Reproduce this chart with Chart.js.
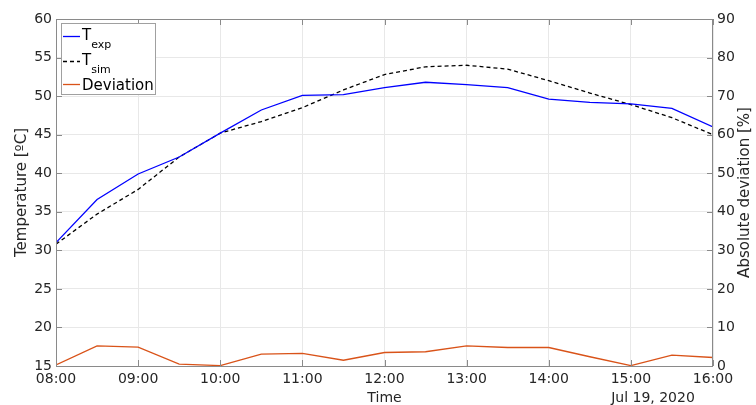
<!DOCTYPE html>
<html>
<head>
<meta charset="utf-8">
<script src="https://cdn.jsdelivr.net/npm/chart.js@4"></script>
<style>
  html, body { margin: 0; padding: 0; background: #fff; }
  #wrap { width: 756px; height: 405px; }
</style>
</head>
<body>
<div id="wrap"><canvas id="tempchart" width="756" height="405"></canvas></div>
<script>
// readings every half hour, Jul 19 2020
var times = ["08:00", "08:30", "09:00", "09:30", "10:00", "10:30", "11:00", "11:30", "12:00",
             "12:30", "13:00", "13:30", "14:00", "14:30", "15:00", "15:30", "16:00"];
var tExp = [31.0, 36.6, 39.9, 42.1, 45.2, 48.2, 50.1, 50.2, 51.1, 51.8, 51.5, 51.1, 49.6, 49.2, 49.0, 48.4, 46.0];
var tSim = [30.8, 34.7, 37.9, 42.1, 45.2, 46.7, 48.5, 50.8, 52.8, 53.8, 54.0, 53.5, 52.0, 50.4, 48.9, 47.2, 45.0];
var deviation = [0.3, 5.2, 4.9, 0.5, 0.1, 3.1, 3.3, 1.5, 3.5, 3.7, 5.2, 4.8, 4.8, 2.4, 0.1, 2.8, 2.2];
var hourTicks = ["08:00", "09:00", "10:00", "11:00", "12:00", "13:00", "14:00", "15:00", "16:00"];

var FONT = "DejaVu Sans";
var AXIS_GRAY = "#8a8a8a";
var GRID_GRAY = "#e8e8e8";

function toHours(t) {
  var p = t.split(":");
  return parseInt(p[0], 10) + parseInt(p[1], 10) / 60;
}
function pts(values) {
  return values.map(function (v, i) { return { x: toHours(times[i]), y: v }; });
}

Chart.defaults.font.family = FONT;
Chart.defaults.font.size = 14;
Chart.defaults.color = "#262626";

// inward ticks, axis titles and the matlab style legend
var extras = {
  id: "extras",
  afterDraw: function (chart) {
    var ctx = chart.ctx;
    var a = chart.chartArea;
    var xs = chart.scales.x, yl = chart.scales.y, yr = chart.scales.y2;
    ctx.save();

    // frame
    ctx.strokeStyle = AXIS_GRAY;
    ctx.lineWidth = 1;
    ctx.strokeRect(a.left + 0.5, a.top + 0.5, a.right - a.left - 1, a.bottom - a.top);

    // inward tick marks
    ctx.beginPath();
    xs.ticks.forEach(function (t) {
      var px = Math.round(xs.getPixelForValue(t.value)) + 0.5;
      ctx.moveTo(px, a.bottom); ctx.lineTo(px, a.bottom - 6);
      ctx.moveTo(px, a.top); ctx.lineTo(px, a.top + 6);
    });
    yl.ticks.forEach(function (t) {
      var py = Math.round(yl.getPixelForValue(t.value)) + 0.5;
      ctx.moveTo(a.left, py); ctx.lineTo(a.left + 6, py);
    });
    yr.ticks.forEach(function (t) {
      var py = Math.round(yr.getPixelForValue(t.value)) + 0.5;
      ctx.moveTo(a.right, py); ctx.lineTo(a.right - 6, py);
    });
    ctx.stroke();

    // axis titles
    ctx.fillStyle = "#262626";
    ctx.font = "15px " + FONT;
    ctx.textAlign = "center";
    ctx.textBaseline = "middle";
    var midY = (a.top + a.bottom) / 2;
    ctx.save();
    ctx.translate(22, midY);
    ctx.rotate(-Math.PI / 2);
    ctx.fillText("Temperature [ºC]", 0, 0);
    ctx.restore();
    ctx.save();
    ctx.translate(745, midY);
    ctx.rotate(-Math.PI / 2);
    ctx.fillText("Absolute deviation [%]", 0, 0);
    ctx.restore();

    ctx.font = "14px " + FONT;
    ctx.fillText("Time", (a.left + a.right) / 2, 398);
    ctx.fillText("Jul 19, 2020", 653, 398);

    // legend
    var lx = 61.5, ly = 23.5, lw = 94, lh = 71;
    ctx.fillStyle = "#fff";
    ctx.fillRect(lx, ly, lw, lh);
    ctx.strokeStyle = "#a0a0a0";
    ctx.strokeRect(lx, ly, lw, lh);

    var entries = [
      { main: "T", sub: "exp", color: "#0000ff", dash: [], y: 36.5 },
      { main: "T", sub: "sim", color: "#000000", dash: [4, 3], y: 61.5 },
      { main: "Deviation", sub: "", color: "#d95319", dash: [], y: 84.5 }
    ];
    entries.forEach(function (e) {
      ctx.beginPath();
      ctx.setLineDash(e.dash);
      ctx.strokeStyle = e.color;
      ctx.lineWidth = 1.3;
      ctx.moveTo(63, e.y); ctx.lineTo(80, e.y);
      ctx.stroke();
      ctx.setLineDash([]);
      ctx.fillStyle = "#000";
      ctx.textAlign = "left";
      ctx.textBaseline = "alphabetic";
      ctx.font = "15px " + FONT;
      var base = e.sub ? e.y + 3 : e.y + 5.5;
      ctx.fillText(e.main, 82, base);
      if (e.sub) {
        var w = ctx.measureText(e.main).width;
        ctx.font = "11px " + FONT;
        ctx.fillText(e.sub, 82 + w, base + 8);
      }
    });
    ctx.restore();
  }
};

var chart = new Chart(document.getElementById("tempchart"), {
  type: "line",
  data: {
    datasets: [
      { label: "T_exp", data: pts(tExp), yAxisID: "y", borderColor: "#0000ff", borderWidth: 1.3, pointRadius: 0, tension: 0 },
      { label: "T_sim", data: pts(tSim), yAxisID: "y", borderColor: "#000000", borderDash: [4, 3], borderWidth: 1.3, pointRadius: 0, tension: 0 },
      { label: "Deviation", data: pts(deviation), yAxisID: "y2", borderColor: "#d95319", borderWidth: 1.3, pointRadius: 0, tension: 0 }
    ]
  },
  options: {
    responsive: false,
    animation: false,
    layout: { padding: { top: 19, left: 0, right: 0, bottom: 0 } },
    plugins: { legend: { display: false }, tooltip: { enabled: false } },
    scales: {
      x: {
        type: "linear",
        min: toHours(hourTicks[0]),
        max: toHours(hourTicks[hourTicks.length - 1]),
        afterBuildTicks: function (s) {
          s.ticks = hourTicks.map(function (t) { return { value: toHours(t) }; });
        },
        afterFit: function (s) { s.height = 39; },
        ticks: {
          padding: 5,
          maxRotation: 0,
          autoSkip: false,
          callback: function (v) {
            var h = Math.round(v);
            return (h < 10 ? "0" : "") + h + ":00";
          }
        },
        grid: { color: GRID_GRAY, drawTicks: false },
        border: { display: false }
      },
      y: {
        position: "left",
        min: 15, max: 60,
        afterFit: function (s) { s.width = 56; },
        ticks: { stepSize: 5, padding: 4 },
        grid: { color: GRID_GRAY, drawTicks: false },
        border: { display: false }
      },
      y2: {
        position: "right",
        min: 0, max: 90,
        afterFit: function (s) { s.width = 43; },
        ticks: { stepSize: 10, padding: 4 },
        grid: { display: false, drawTicks: false },
        border: { display: false }
      }
    }
  },
  plugins: [extras]
});
</script>
</body>
</html>
